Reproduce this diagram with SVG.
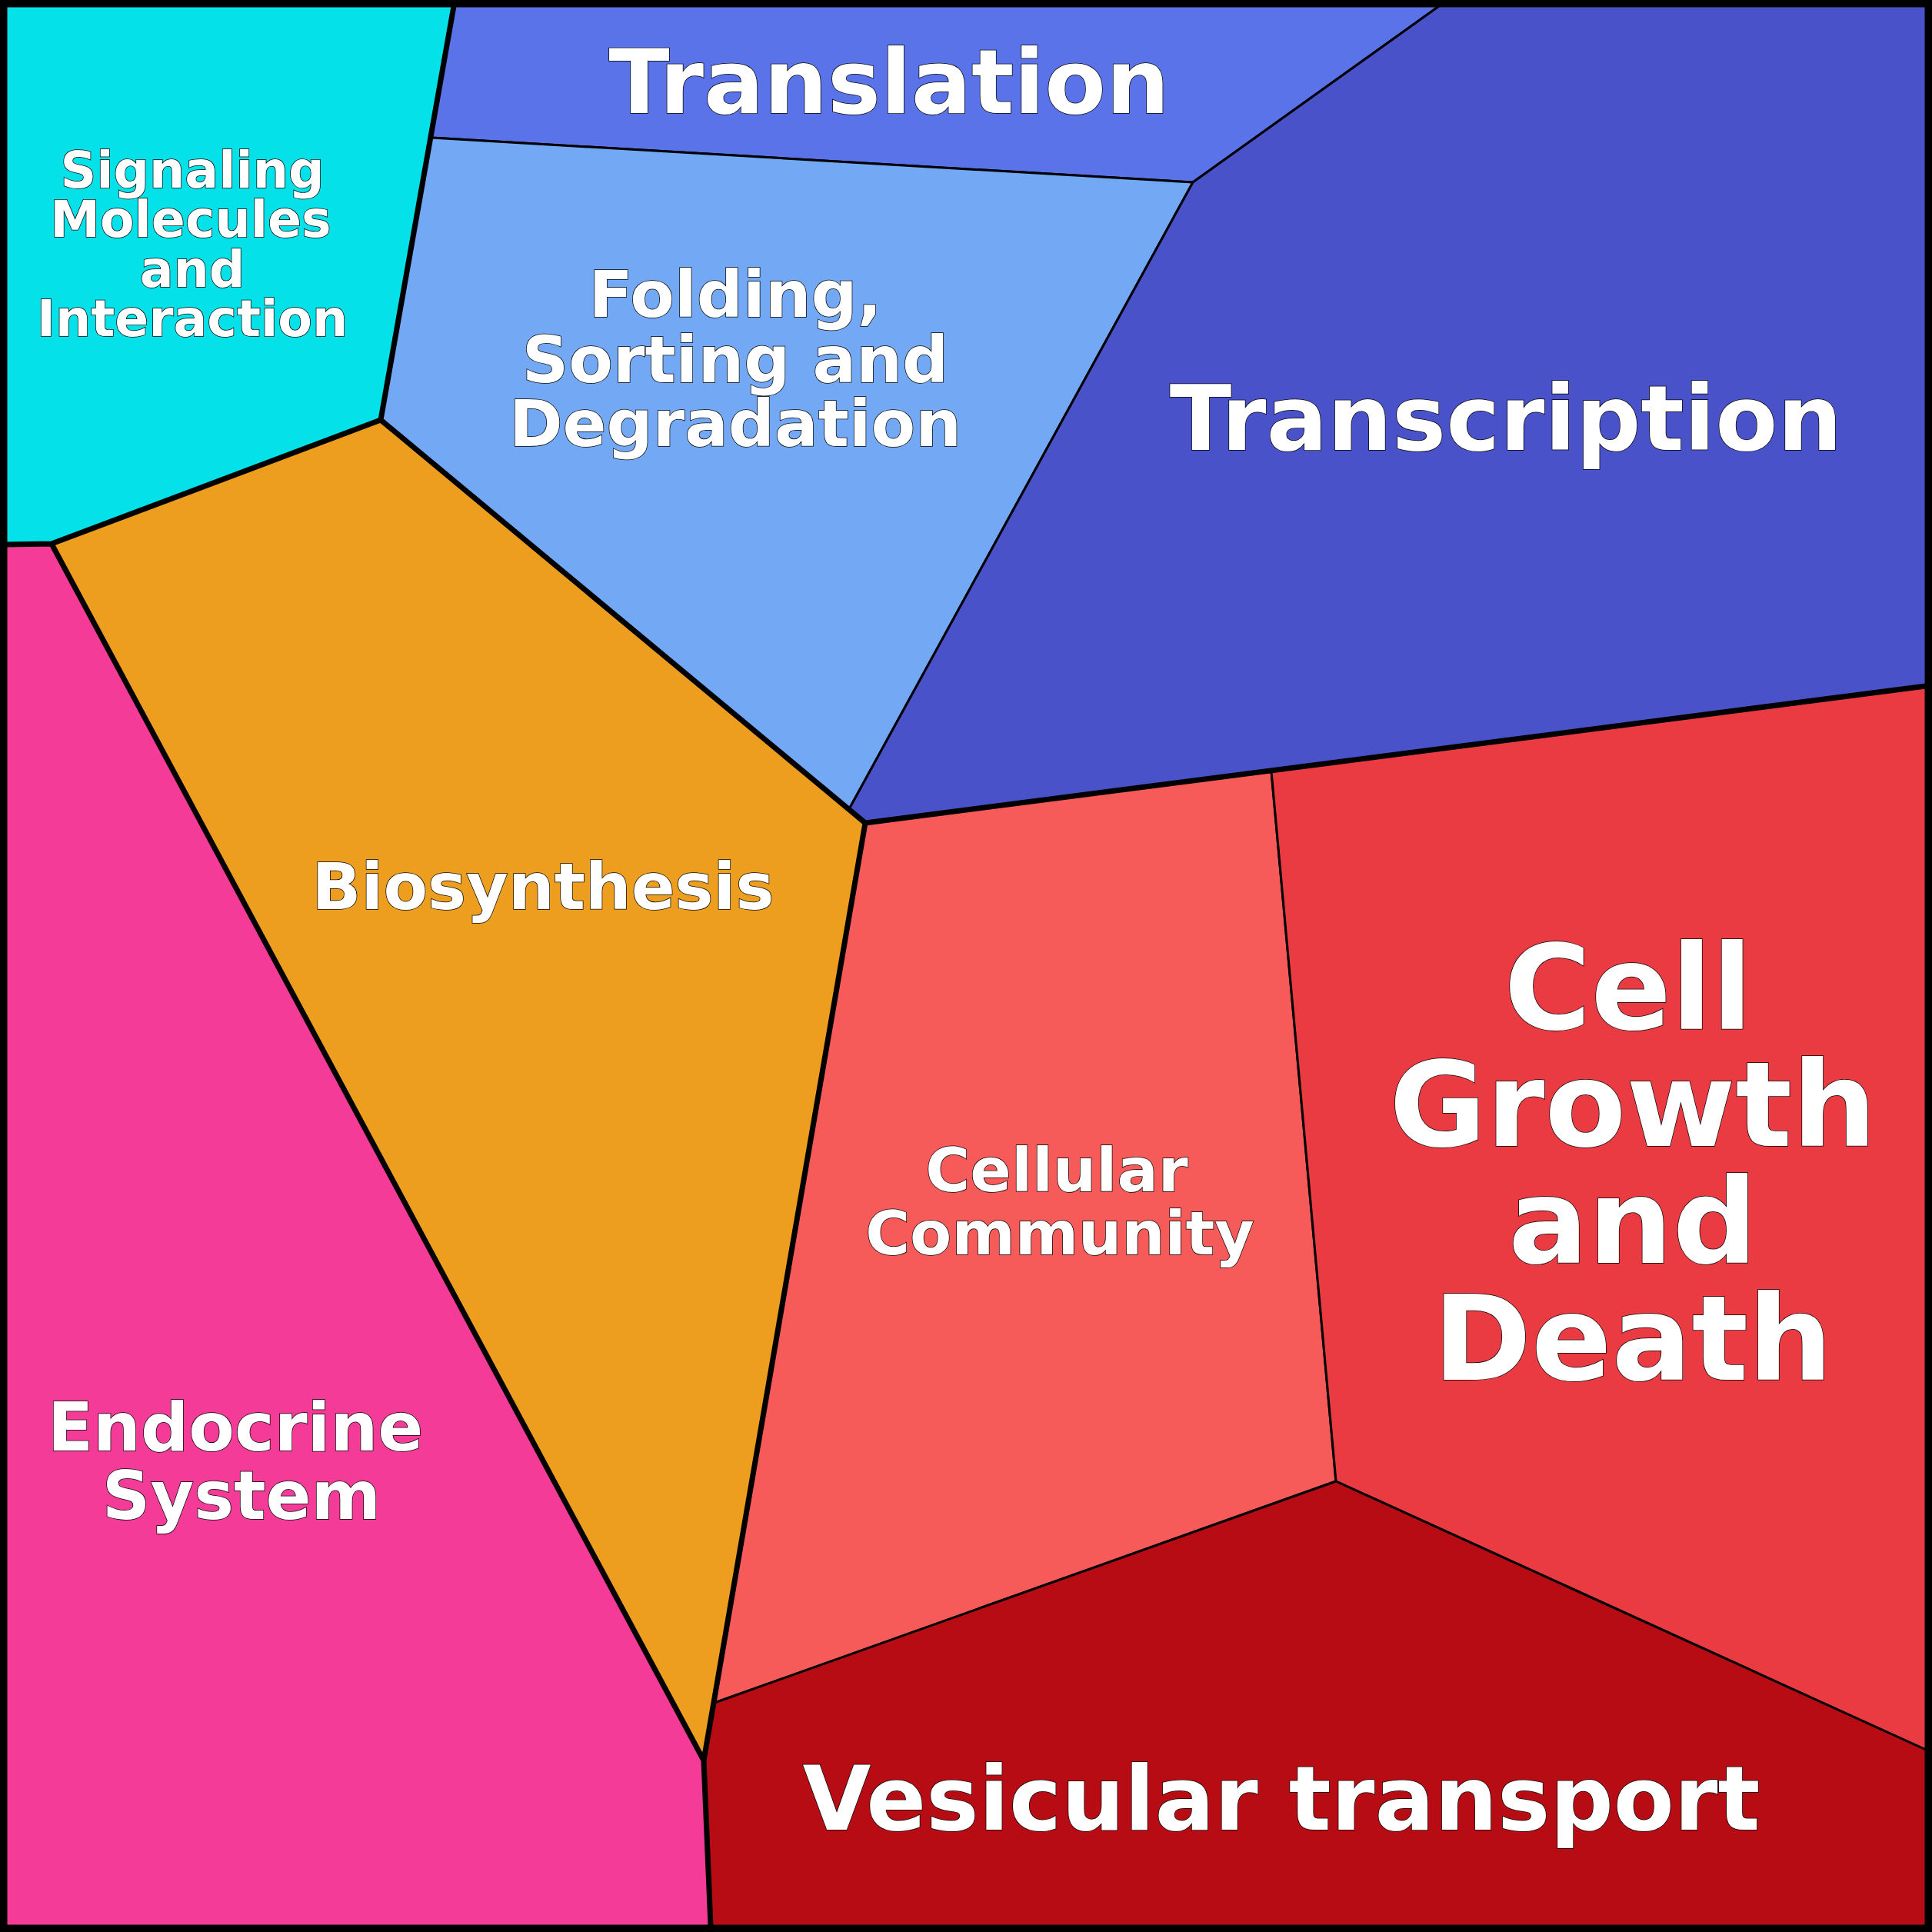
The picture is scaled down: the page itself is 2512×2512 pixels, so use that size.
<svg xmlns="http://www.w3.org/2000/svg" width="2512" height="2512" viewBox="0 0 2512 2512">
<style>
.c{stroke:#000;stroke-width:3;stroke-linejoin:round}
.t{font-family:"DejaVu Sans",sans-serif;font-weight:bold;fill:#fff;stroke:#000;stroke-width:1.5;paint-order:stroke;text-anchor:middle}
.k{fill:none;stroke:#000;stroke-width:7;stroke-linejoin:round}
</style>
<rect width="2512" height="2512" fill="#fff"/>
<g id="signaling"><polygon class="c" fill="#05e1e8" points="8,8 590,8 561,179 495,546 67,707 8,708"/>
<text class="t" font-size="65" x="250" y="244">Signaling</text><text class="t" font-size="65" x="248" y="308">Molecules</text><text class="t" font-size="65" x="250" y="373">and</text><text class="t" font-size="65" x="250" y="437">Interaction</text></g>
<g id="translation"><polygon class="c" fill="#5a73e8" points="590,8 1871,8 1551,237 561,179"/>
<text class="t" font-size="116" x="1156" y="147">Translation</text></g>
<g id="folding"><polygon class="c" fill="#73a9f4" points="561,179 1551,237 1104,1052 495,546"/>
<text class="t" font-size="84" x="956" y="412">Folding,</text><text class="t" font-size="84" x="956" y="497">Sorting and</text><text class="t" font-size="84" x="956" y="580">Degradation</text></g>
<g id="transcription"><polygon class="c" fill="#4a52c9" points="1871,8 2504,8 2504,892 1653,1003 1125,1070 1104,1052 1551,237"/>
<text class="t" font-size="118" x="1958" y="585">Transcription</text></g>
<g id="biosynthesis"><polygon class="c" fill="#ee9e1e" points="495,546 1104,1052 1125,1070 915,2289 67,707"/>
<text class="t" font-size="84" x="706" y="1182">Biosynthesis</text></g>
<g id="endocrine"><polygon class="c" fill="#f53b98" points="8,708 67,707 915,2289 924,2504 8,2504"/>
<text class="t" font-size="87" x="306" y="1886">Endocrine</text><text class="t" font-size="87" x="314" y="1975">System</text></g>
<g id="cellular"><polygon class="c" fill="#f75b59" points="1125,1070 1653,1003 1737,1926 929,2214"/>
<text class="t" font-size="79" x="1374" y="1549">Cellular</text><text class="t" font-size="79" x="1378" y="1631">Community</text></g>
<g id="cellgrowth"><polygon class="c" fill="#ea3b43" points="1653,1003 2504,892 2504,2275 1737,1926"/>
<text class="t" font-size="154" x="2117" y="1338">Cell</text><text class="t" font-size="154" x="2123" y="1490">Growth</text><text class="t" font-size="154" x="2123" y="1642">and</text><text class="t" font-size="154" x="2123" y="1794">Death</text></g>
<g id="vesicular"><polygon class="c" fill="#b80c14" points="915,2289 929,2214 1737,1926 2504,2275 2504,2504 924,2504"/>
<text class="t" font-size="115" x="1666" y="2379">Vesicular transport</text></g>
<g id="connectors">
<path class="k" d="M590,8 L495,546 L67,707 L8,708 M495,546 L1125,1070 L915,2289 L924,2504 M1125,1070 L2504,892 M67,707 L915,2289"/>
<rect x="4" y="4" width="2504" height="2504" fill="none" stroke="#000" stroke-width="9"/>
</g>
</svg>
